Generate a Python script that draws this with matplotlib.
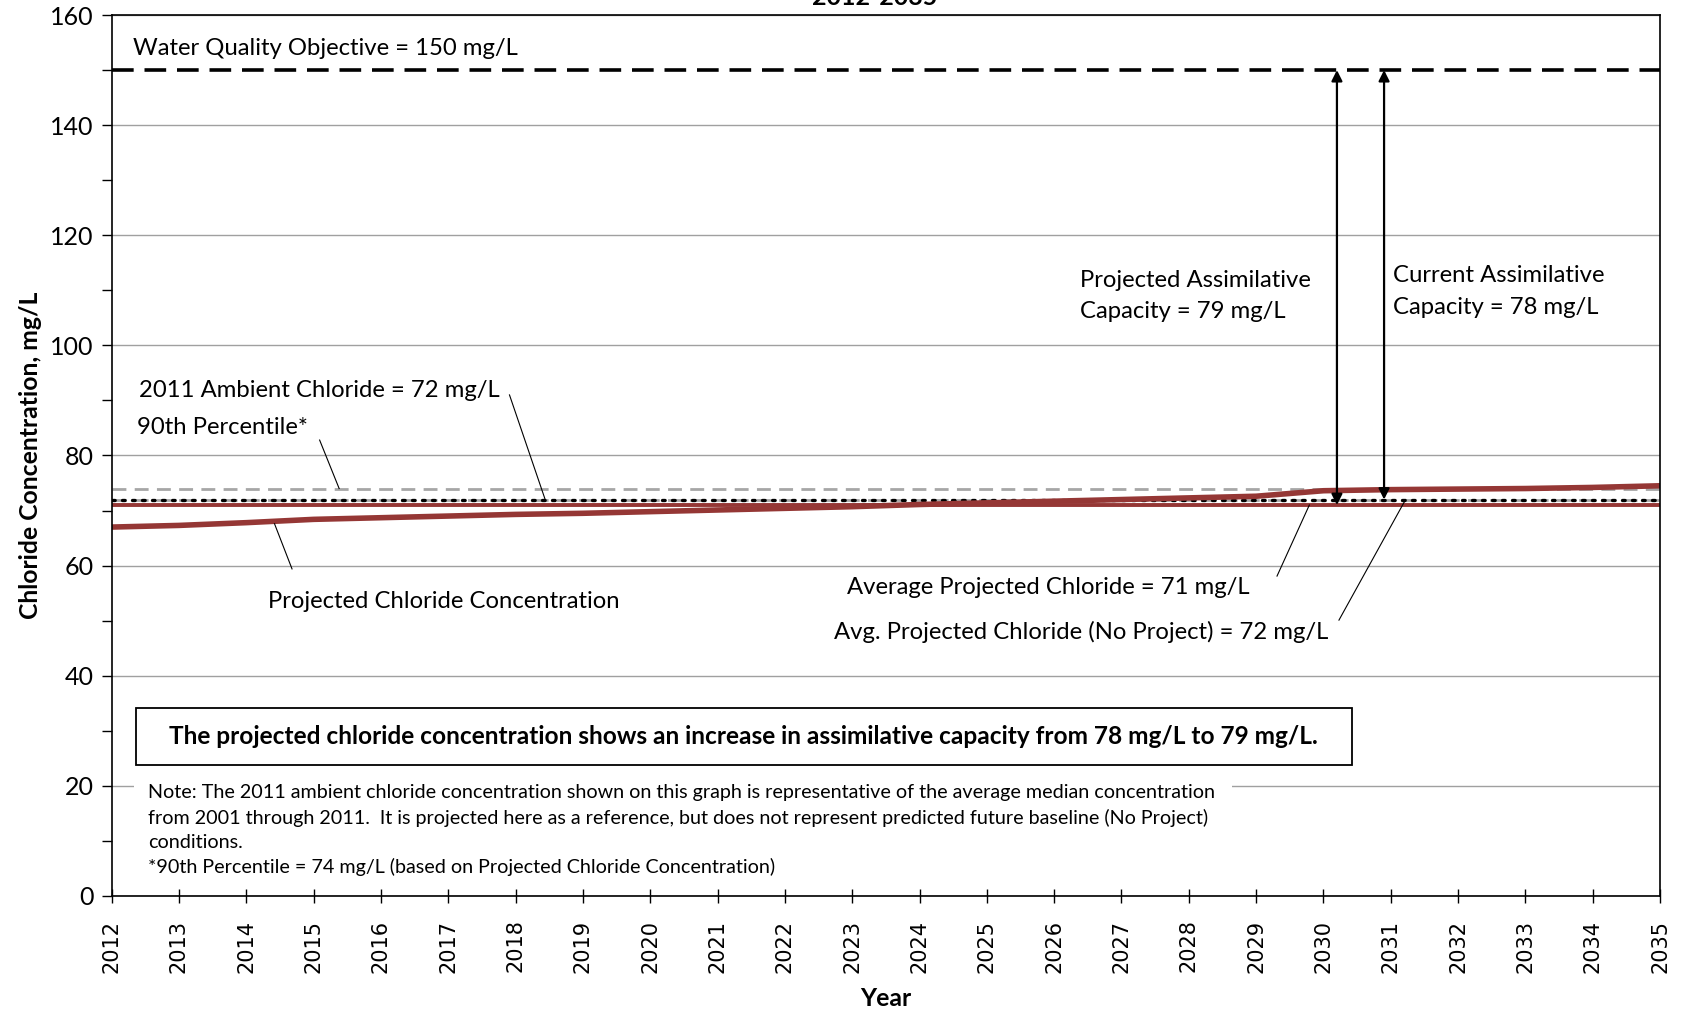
import numpy as np
import matplotlib
matplotlib.use("Agg")
import matplotlib.pyplot as plt
from matplotlib.patches import Rectangle

plt.rcParams['font.family'] = ['Lato', 'DejaVu Sans']

# data
years = list(range(2012, 2036))
projected = [67.0, 67.3, 67.8, 68.4, 68.7, 69.0, 69.3, 69.5, 69.8, 70.1, 70.4, 70.7,
             71.1, 71.4, 71.7, 72.0, 72.3, 72.6, 73.6, 73.8, 73.9, 74.0, 74.2, 74.5]
wqo = 150
pct90 = 74
ambient_2011 = 72
avg_projected = 71
avg_no_project = 72

dark_red = "#953735"
gray = "#A6A6A6"

fig = plt.figure(figsize=(16.83, 10.14), dpi=100)
ax = fig.add_axes([0.0663, 0.1164, 0.9201, 0.8688])

ax.set_xlim(2012, 2035)
ax.set_ylim(0, 160)
ax.set_yticks(range(0, 161, 20))
ax.set_yticks(range(10, 160, 20), minor=True)
ax.yaxis.grid(True, which='major', color='#A0A0A0', lw=1.0)
ax.set_axisbelow(True)
ax.set_xticks(years)
ax.set_xticklabels([str(y) for y in years], rotation=90, family='DejaVu Sans', fontsize=15)
ax.tick_params(axis='x', direction='inout', length=10, width=1, pad=12)
ax.tick_params(axis='y', which='both', direction='out', length=7, width=1, labelsize=18, pad=6)
for s in ax.spines.values():
    s.set_linewidth(1.2)

# reference lines
ax.axhline(wqo, color='black', lw=2.6, ls=(0, (6, 3)))
ax.axhline(pct90, color=gray, lw=2.0, ls=(0, (5, 3)))
ax.axhline(avg_no_project, color=gray, lw=2.0, ls=(0, (5, 3)))
ax.axhline(ambient_2011, color='black', lw=2.4, ls=(0, (0.8, 2.2)), dash_capstyle='round')
ax.axhline(avg_projected, color=dark_red, lw=2.8)
ax.plot(years, projected, color=dark_red, lw=4.0, solid_capstyle='butt')

# capacity arrows
arrow_kw = dict(arrowstyle='<|-|>', color='black', lw=1.6, mutation_scale=16, shrinkA=0, shrinkB=0)
ax.annotate('', xy=(2030.2, wqo), xytext=(2030.2, avg_projected), arrowprops=arrow_kw)
ax.annotate('', xy=(2030.9, wqo), xytext=(2030.9, ambient_2011), arrowprops=arrow_kw)

fs = 17.2
ax.text(2012.32, 154, "Water Quality Objective = 150 mg/L", fontsize=fs, va='center')
ax.text(2026.38, 109, "Projected Assimilative\nCapacity = 79 mg/L", fontsize=fs, va='center',
        linespacing=1.6)
ax.text(2031.03, 109.8, "Current Assimilative\nCapacity = 78 mg/L", fontsize=fs, va='center',
        linespacing=1.6)
ax.text(2012.41, 91.8, "2011 Ambient Chloride = 72 mg/L", fontsize=fs, va='center')
ax.text(2012.38, 85.0, "90th Percentile*", fontsize=fs, va='center')
ax.text(2014.33, 53.4, "Projected Chloride Concentration", fontsize=fs, va='center')
ax.text(2022.93, 56.1, "Average Projected Chloride = 71 mg/L", fontsize=fs, va='center')
ax.text(2022.73, 47.9, "Avg. Projected Chloride (No Project) = 72 mg/L", fontsize=fs, va='center')

# leader lines
leaders = [((2017.91, 91.0), (2018.44, 72.0)),
           ((2015.09, 82.8), (2015.38, 74.0)),
           ((2014.68, 59.4), (2014.42, 67.6)),
           ((2029.31, 58.1), (2029.79, 71.0)),
           ((2030.23, 50.1), (2031.22, 72.0))]
for (x0, y0), (x1, y1) in leaders:
    ax.plot([x0, x1], [y0, y1], color='black', lw=0.8)

# summary box
ax.add_patch(Rectangle((2012.36, 23.7), 18.06, 10.5, facecolor='white', edgecolor='black', lw=1.3,
                       zorder=4))
ax.text(2021.39, 29.0, "The projected chloride concentration shows an increase in assimilative "
        "capacity from 78 mg/L to 79 mg/L.", fontsize=17.6, fontweight='bold',
        ha='center', va='center', zorder=5)

# note
ax.add_patch(Rectangle((2012.34, 2.5), 16.3, 20.5, facecolor='white', edgecolor='none', zorder=3))
note = ("Note: The 2011 ambient chloride concentration shown on this graph is representative of the "
        "average median concentration\nfrom 2001 through 2011.  It is projected here as a reference, "
        "but does not represent predicted future baseline (No Project)\nconditions.\n"
        "*90th Percentile = 74 mg/L (based on Projected Chloride Concentration)")
ax.text(2012.54, 20.3, note, fontsize=14.2, va='top', linespacing=1.5, zorder=5)

ax.set_ylabel("Chloride Concentration, mg/L", fontsize=17.8, fontweight='bold', labelpad=6)
ax.set_xlabel("Year", fontsize=17.8, fontweight='bold', labelpad=10)

fig.text(0.52, 1.002, "2012-2035", fontsize=18, fontweight='bold', ha='center', va='center')

fig.savefig("out.png", dpi=100)
